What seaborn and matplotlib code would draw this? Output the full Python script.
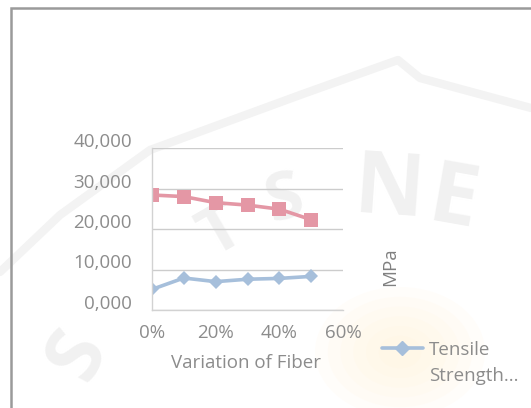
import matplotlib
matplotlib.use("Agg")
import matplotlib.pyplot as plt
import matplotlib.transforms as mtransforms
from matplotlib.patches import Rectangle, Ellipse
from matplotlib.lines import Line2D
import pandas as pd
import seaborn as sns

# Fiber content (fraction) and the two measured series in MPa
fiber = [0.0, 0.1, 0.2, 0.3, 0.4, 0.5]
tensile = [5.1, 7.9, 7.0, 7.6, 7.8, 8.3]
second = [28.4, 28.0, 26.5, 25.9, 24.9, 22.3]
series_names = ["Tensile Strength (MPa)", "Flexural Strength (MPa)"]
x_ticks = [0.0, 0.2, 0.4, 0.6]
y_ticks = [0, 10, 20, 30, 40]

df = pd.DataFrame({
    "fiber": fiber * 2,
    "value": tensile + second,
    "series": [series_names[0]] * len(fiber) + [series_names[1]] * len(fiber),
})

sns.set_theme(style="white")
plt.rcParams["font.family"] = ["Open Sans", "DejaVu Sans"]

W, H, DPI = 531, 408, 100
fig = plt.figure(figsize=(W / DPI, H / DPI), dpi=DPI)
fig.patch.set_facecolor("white")

def fx(x):
    return x / W

def fy(y):
    return 1 - y / H

def px(x0, y0, x1, y1):
    return [x0 / W, 1 - y1 / H, (x1 - x0) / W, (y1 - y0) / H]

# faint background emblem: arc band, soft glow and lettering
wm = "#F1F1F1"
arc_x = [0, 60, 150, 300, 398, 420, 531]
arc_y = [272, 215, 150, 95, 60, 78, 108]
fig.add_artist(Line2D([fx(v) for v in arc_x], [fy(v) for v in arc_y], color="#F3F3F3",
                      linewidth=6, solid_capstyle="round", zorder=0))
for k in range(6):
    scale = 1 - k * 0.15
    fig.add_artist(Ellipse((fx(400), fy(352)), 170 * scale / W, 130 * scale / H,
                           color="#FFF3D6", alpha=0.12, zorder=0, linewidth=0))
for ch, x, y, rot, size in [("N", 389, 192, -4, 62), ("E", 453, 202, -10, 62),
                            ("S", 78, 355, 62, 56),
                            ("T", 222, 232, 30, 48), ("S", 285, 200, 15, 48)]:
    fig.text(fx(x), fy(y), ch, ha="center", va="center", rotation=rot,
             fontsize=size, fontweight="bold", color=wm, zorder=0)

ax = fig.add_axes(px(152, 148, 343, 310))
ax.set_facecolor("none")
ax.set_zorder(2)

blue = "#A6BFDB"
red = "#E497A5"
sns.lineplot(data=df, x="fiber", y="value", hue="series", style="series",
             palette={series_names[0]: blue, series_names[1]: red},
             markers={series_names[0]: "D", series_names[1]: "s"},
             dashes=False, markersize=8, linewidth=2.6, markeredgewidth=0,
             legend=False, ax=ax)
for line in ax.get_lines():
    if line.get_marker() == "s":
        line.set_markersize(10.5)
    else:
        line.set_markersize(7.5)

ax.set_xlim(0, 0.6)
ax.set_ylim(0, 40)
ax.set_xticks(x_ticks)
ax.set_yticks(y_ticks)
ax.set_xticklabels([f"{int(round(t * 100))}%" for t in x_ticks])
ax.set_yticklabels([f"{t:.3f}".replace(".", ",") for t in y_ticks])

label_color = "#8C8C8C"
fs = 13.5
ax.tick_params(axis="both", length=0, labelsize=fs, labelcolor=label_color)
ax.tick_params(axis="y", pad=14.5)
ax.tick_params(axis="x", pad=10)
for lab in ax.get_yticklabels():
    lab.set_transform(lab.get_transform() +
                      mtransforms.ScaledTranslation(0, 8 / DPI, fig.dpi_scale_trans))

ax.grid(axis="y", color="#CCCCCC", linewidth=1)
ax.grid(axis="x", visible=False)
for side in ["top", "right"]:
    ax.spines[side].set_visible(False)
for side in ["left", "bottom"]:
    ax.spines[side].set_color("#D2D2D2")
    ax.spines[side].set_linewidth(1)
ax.set_xlabel("")
ax.set_ylabel("")

fig.text(fx(246), fy(363), "Variation of Fiber", ha="center", va="center",
         fontsize=fs, color=label_color, zorder=3)
fig.text(fx(390), fy(267), "MPa", ha="center", va="center", rotation=90,
         fontsize=fs, color="#808080", zorder=3)

# legend entry
fig.add_artist(Line2D([fx(382), fx(423)], [fy(348), fy(348)], color=blue,
                      linewidth=2.6, zorder=3))
fig.add_artist(Line2D([fx(402)], [fy(348)], color=blue, marker="D",
                      markersize=7.5, linewidth=0, zorder=3))
fig.text(fx(429), fy(350), "Tensile", ha="left", va="center",
         fontsize=fs, color=label_color, zorder=3)
fig.text(fx(429), fy(376), "Strength...", ha="left", va="center",
         fontsize=fs, color=label_color, zorder=3)

# chart frame
fig.add_artist(Rectangle((fx(11), -0.1), 1.2, fy(8) + 0.1,
                         fill=False, edgecolor="#9A9A9A", linewidth=1.8, zorder=4))

fig.savefig("out.png", dpi=DPI, facecolor="white")
